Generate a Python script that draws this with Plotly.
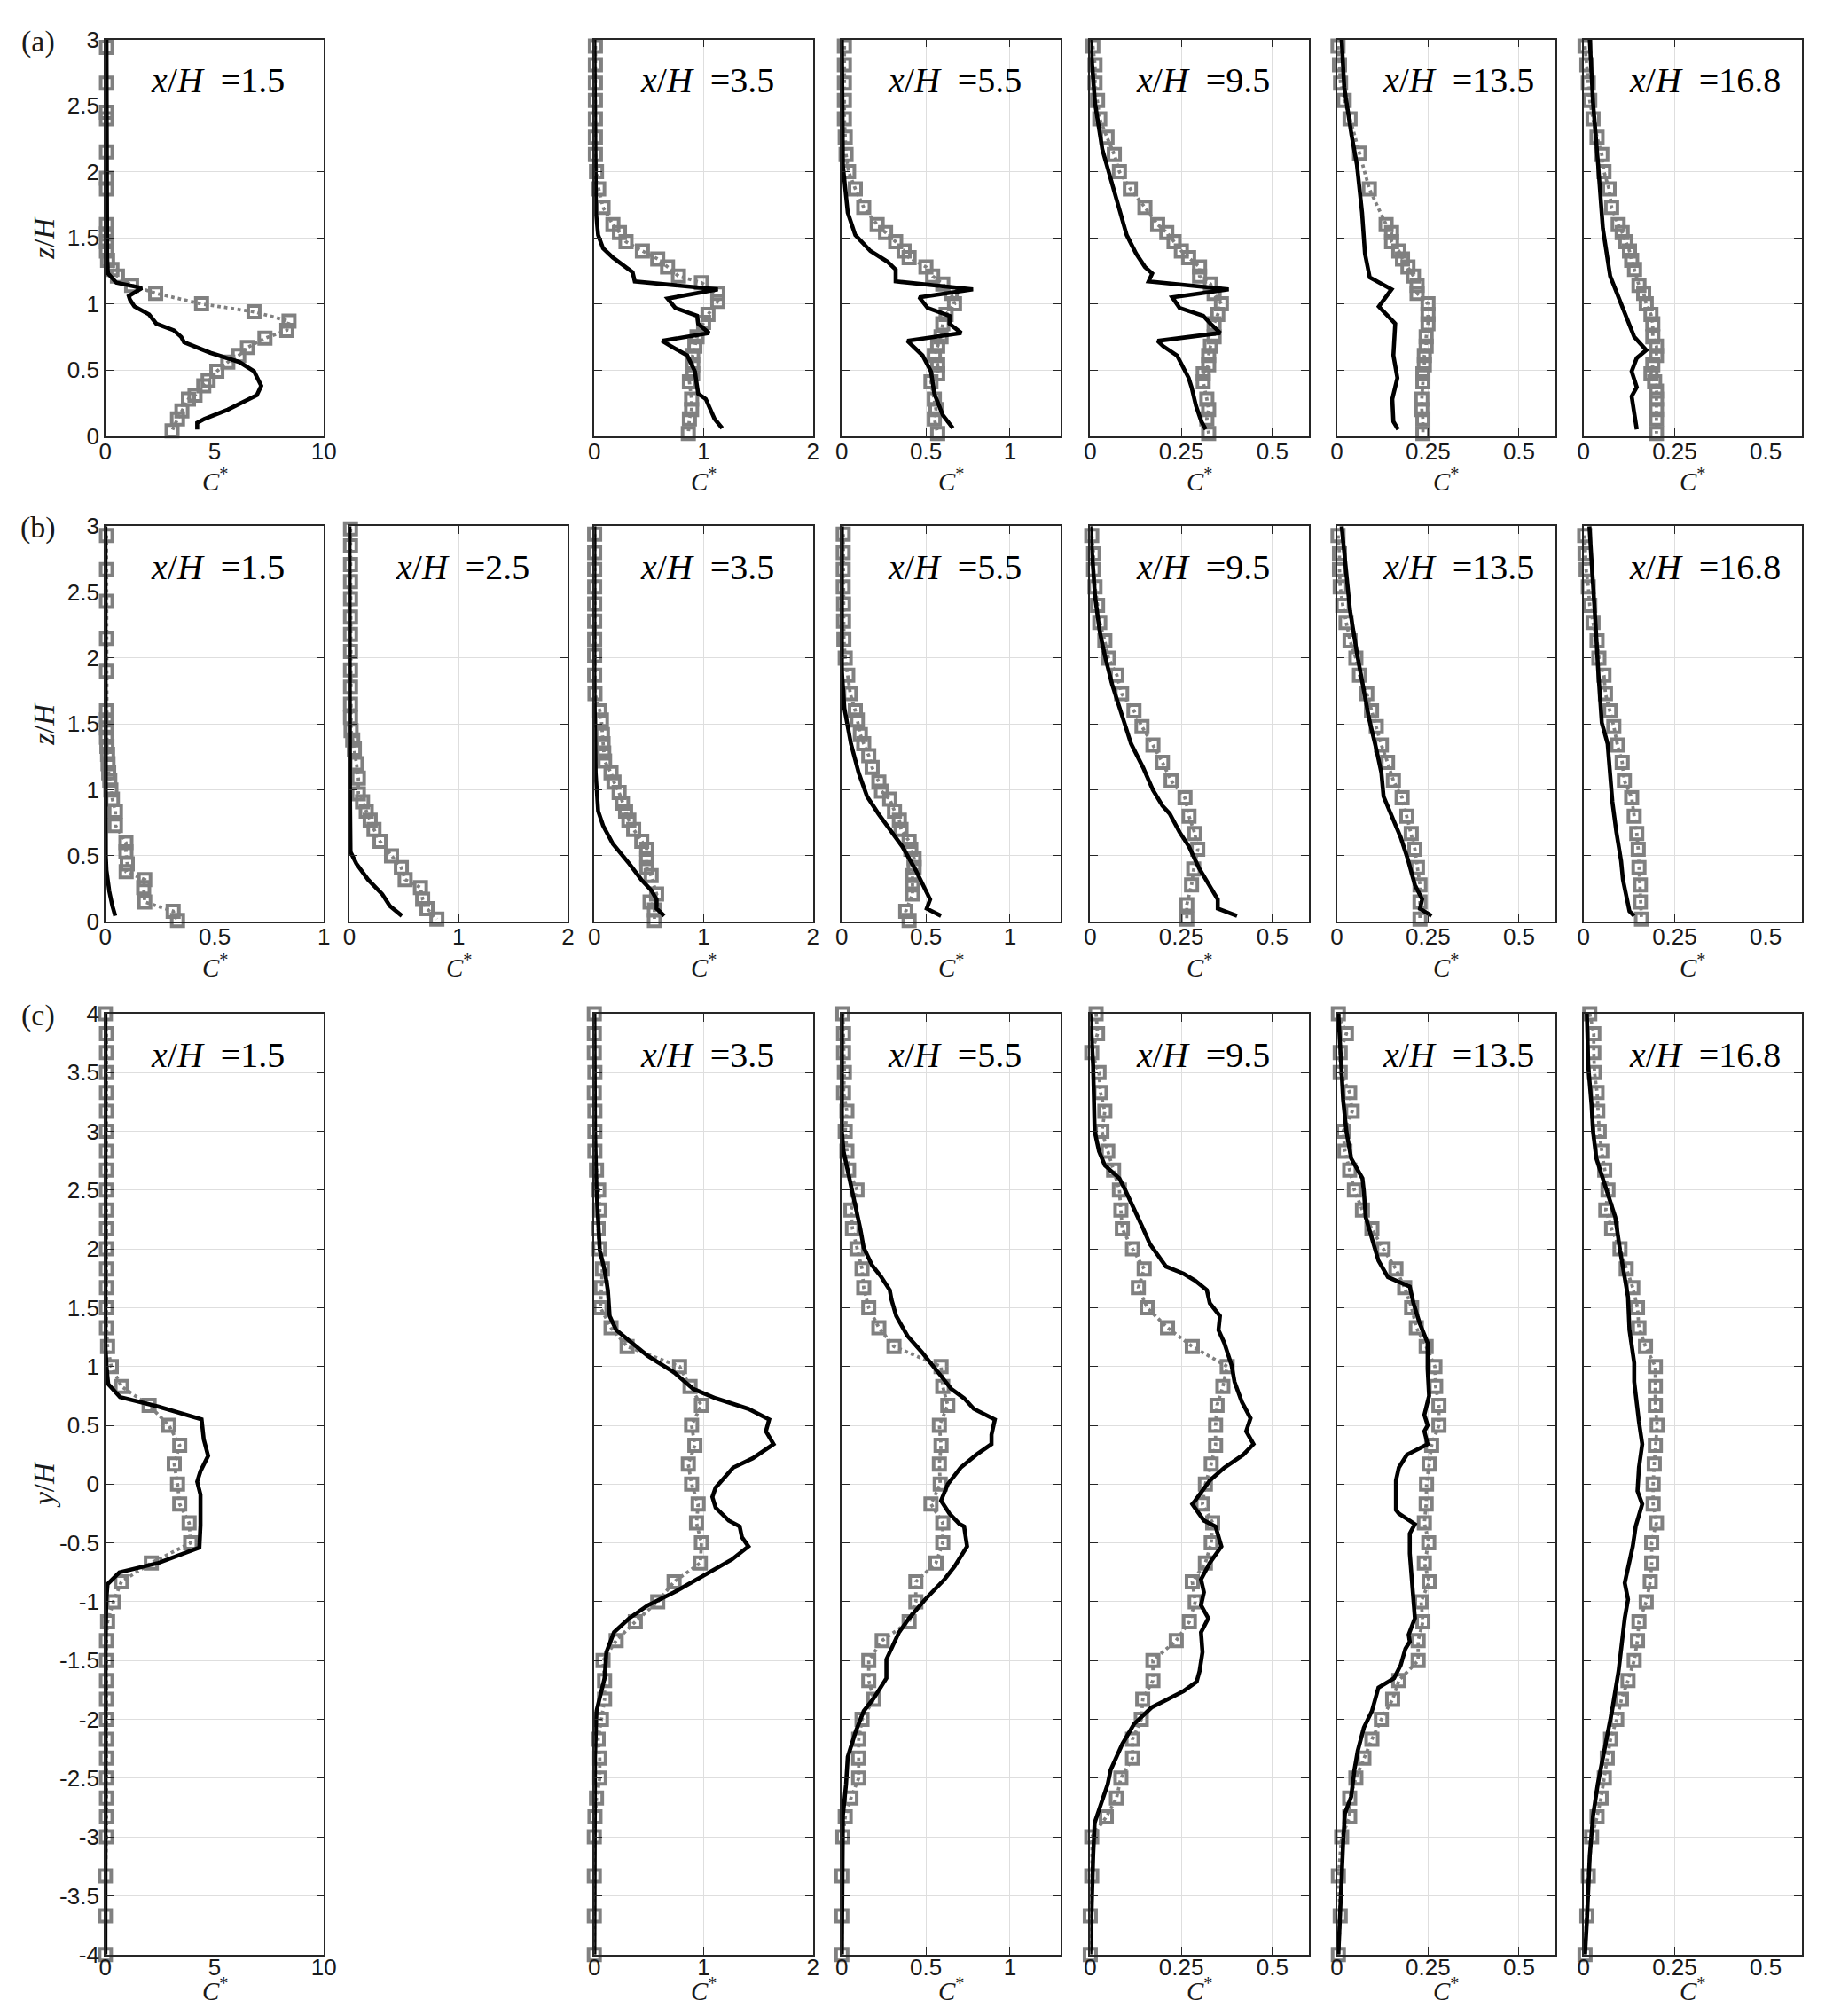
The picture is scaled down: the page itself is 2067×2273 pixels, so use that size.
import plotly.graph_objects as go

# ---------------- DATA ----------------
ROW_A_XH = ["1.5", None, "3.5", "5.5", "9.5", "13.5", "16.8"]
ROW_B_XH = ["1.5", "2.5", "3.5", "5.5", "9.5", "13.5", "16.8"]
ROW_C_XH = ["1.5", None, "3.5", "5.5", "9.5", "13.5", "16.8"]

X_RANGE_BY_COL = {
    "a": [[0, 10], None, [0, 2], [0, 1.3], [0, 0.6], [0, 0.6], [0, 0.6]],
    "b": [[0, 1], [0, 2], [0, 2], [0, 1.3], [0, 0.6], [0, 0.6], [0, 0.6]],
    "c": [[0, 10], None, [0, 2], [0, 1.3], [0, 0.6], [0, 0.6], [0, 0.6]],
}
X_TICKS_BY_COL = {
    "a": [[0, 5, 10], None, [0, 1, 2], [0, 0.5, 1], [0, 0.25, 0.5], [0, 0.25, 0.5], [0, 0.25, 0.5]],
    "b": [[0, 0.5, 1], [0, 1, 2], [0, 1, 2], [0, 0.5, 1], [0, 0.25, 0.5], [0, 0.25, 0.5], [0, 0.25, 0.5]],
    "c": [[0, 5, 10], None, [0, 1, 2], [0, 0.5, 1], [0, 0.25, 0.5], [0, 0.25, 0.5], [0, 0.25, 0.5]],
}
Z_TICKS = [0, 0.5, 1, 1.5, 2, 2.5, 3]
Z_TICK_TEXT = ["0", "0.5", "1", "1.5", "2", "2.5", "3"]
Y_TICKS = [-4, -3.5, -3, -2.5, -2, -1.5, -1, -0.5, 0, 0.5, 1, 1.5, 2, 2.5, 3, 3.5, 4]
Y_TICK_TEXT = ["-4", "-3.5", "-3", "-2.5", "-2", "-1.5", "-1", "-0.5", "0", "0.5", "1", "1.5",
               "2", "2.5", "3", "3.5", "4"]

# ---- row (a): vertical profiles ----
A1_EXP_Z = [2.94, 2.67, 2.45, 2.4, 2.15, 1.95, 1.87, 1.6, 1.53, 1.47, 1.4, 1.33, 1.26, 1.21, 1.14, 1.08,
            1.0, 0.94, 0.87, 0.8, 0.74, 0.67, 0.61, 0.56, 0.49, 0.42, 0.38, 0.31, 0.28, 0.19, 0.13, 0.04]
A1_EXP_C = [0.05, 0.05, 0.05, 0.05, 0.05, 0.05, 0.05, 0.05, 0.05, 0.05, 0.05, 0.1, 0.3, 0.55, 1.2, 2.3,
            4.4, 6.8, 8.4, 8.3, 7.3, 6.5, 6.1, 5.6, 5.1, 4.7, 4.5, 4.1, 3.8, 3.5, 3.3, 3.05]
A1_SIM_Z = [3.0, 2.0, 1.35, 1.23, 1.16, 1.12, 1.06, 1.03, 0.98, 0.92, 0.85, 0.8, 0.75, 0.71, 0.63, 0.56,
            0.49, 0.38, 0.31, 0.2, 0.13, 0.1, 0.05]
A1_SIM_C = [0.05, 0.05, 0.08, 0.12, 0.5, 1.67, 1.07, 1.13, 1.33, 2.0, 2.33, 3.13, 3.47, 3.6, 4.8, 6.13,
            6.8, 7.13, 6.93, 5.6, 4.53, 4.2, 4.2]

A3_EXP_Z = [2.95, 2.81, 2.67, 2.54, 2.4, 2.26, 2.13, 2.0, 1.87, 1.73, 1.6, 1.54, 1.47, 1.4, 1.34, 1.28,
            1.21, 1.16, 1.08, 1.02, 0.92, 0.86, 0.75, 0.68, 0.61, 0.54, 0.47, 0.41, 0.28, 0.2, 0.13, 0.02]
A3_EXP_C = [0.01, 0.01, 0.01, 0.01, 0.01, 0.01, 0.01, 0.02, 0.04, 0.08, 0.17, 0.23, 0.29, 0.44, 0.58, 0.67,
            0.77, 0.98, 1.13, 1.13, 1.04, 1.0, 0.94, 0.92, 0.9, 0.9, 0.9, 0.87, 0.89, 0.89, 0.87, 0.86]
A3_SIM_Z = [3.0, 2.05, 1.69, 1.52, 1.42, 1.35, 1.28, 1.24, 1.17, 1.11, 1.04, 0.97, 0.91, 0.85, 0.78, 0.72,
            0.68, 0.61, 0.49, 0.32, 0.28, 0.13, 0.06]
A3_SIM_C = [0.0, 0.01, 0.015, 0.035, 0.08, 0.17, 0.29, 0.35, 0.37, 1.13, 0.67, 0.74, 0.94, 0.95, 1.05, 0.62,
            0.7, 0.85, 0.92, 0.95, 1.02, 1.1, 1.17]

A4_EXP_Z = [2.95, 2.81, 2.67, 2.54, 2.4, 2.26, 2.13, 2.0, 1.87, 1.73, 1.6, 1.54, 1.47, 1.4, 1.35, 1.28,
            1.21, 1.15, 1.08, 1.0, 0.92, 0.85, 0.75, 0.68, 0.61, 0.54, 0.47, 0.41, 0.28, 0.2, 0.13, 0.02]
A4_EXP_C = [0.015, 0.015, 0.015, 0.015, 0.015, 0.02, 0.025, 0.04, 0.08, 0.13, 0.21, 0.26, 0.32, 0.37, 0.4, 0.5,
            0.54, 0.6, 0.65, 0.67, 0.62, 0.6, 0.59, 0.57, 0.55, 0.57, 0.57, 0.53, 0.55, 0.56, 0.55, 0.57]
A4_SIM_Z = [3.0, 2.05, 1.69, 1.52, 1.4, 1.32, 1.26, 1.17, 1.11, 1.05, 0.97, 0.91, 0.85, 0.78, 0.72, 0.68,
            0.61, 0.49, 0.32, 0.16, 0.06]
A4_SIM_C = [0.0, 0.006, 0.035, 0.08, 0.17, 0.27, 0.32, 0.32, 0.78, 0.46, 0.51, 0.64, 0.64, 0.71, 0.39, 0.42,
            0.48, 0.53, 0.55, 0.6, 0.66]

A5_EXP_Z = A4_EXP_Z
A5_EXP_C = [0.007, 0.013, 0.013, 0.02, 0.026, 0.046, 0.066, 0.08, 0.11, 0.15, 0.185, 0.21, 0.23, 0.25, 0.27, 0.3,
            0.3, 0.33, 0.34, 0.36, 0.35, 0.34, 0.34, 0.33, 0.325, 0.325, 0.31, 0.31, 0.32, 0.325, 0.32, 0.325]
A5_SIM_Z = [3.0, 2.52, 2.17, 1.9, 1.71, 1.52, 1.38, 1.28, 1.23, 1.17, 1.11, 1.05, 0.97, 0.91, 0.85, 0.78,
            0.72, 0.68, 0.61, 0.44, 0.37, 0.23, 0.11, 0.05]
A5_SIM_C = [0.0, 0.013, 0.033, 0.06, 0.08, 0.1, 0.126, 0.15, 0.17, 0.16, 0.38, 0.225, 0.245, 0.31, 0.33, 0.357,
            0.185, 0.2, 0.238, 0.27, 0.278, 0.29, 0.305, 0.317]

A6_EXP_Z = [2.95, 2.81, 2.67, 2.54, 2.4, 2.14, 1.87, 1.6, 1.54, 1.47, 1.4, 1.34, 1.28, 1.21, 1.14, 1.08,
            1.0, 0.92, 0.85, 0.75, 0.68, 0.61, 0.54, 0.47, 0.41, 0.28, 0.2, 0.13, 0.02]
A6_EXP_C = [0.003, 0.007, 0.01, 0.02, 0.036, 0.062, 0.089, 0.135, 0.15, 0.15, 0.17, 0.18, 0.195, 0.21, 0.22, 0.22,
            0.25, 0.25, 0.25, 0.245, 0.245, 0.24, 0.24, 0.236, 0.236, 0.233, 0.233, 0.236, 0.236]
A6_SIM_Z = [3.0, 2.64, 2.28, 2.05, 1.69, 1.38, 1.2, 1.11, 0.98, 0.85, 0.61, 0.44, 0.28, 0.11, 0.05]
A6_SIM_C = [0.013, 0.02, 0.04, 0.055, 0.069, 0.077, 0.09, 0.15, 0.115, 0.16, 0.155, 0.166, 0.152, 0.155, 0.168]

A7_EXP_Z = [2.95, 2.81, 2.67, 2.54, 2.4, 2.26, 2.13, 2.0, 1.87, 1.73, 1.6, 1.54, 1.47, 1.4, 1.33, 1.26,
            1.14, 1.08, 1.0, 0.92, 0.85, 0.75, 0.68, 0.61, 0.54, 0.47, 0.41, 0.34, 0.28, 0.2, 0.13, 0.02]
A7_EXP_C = [0.004, 0.009, 0.013, 0.017, 0.026, 0.037, 0.05, 0.056, 0.07, 0.077, 0.095, 0.106, 0.116, 0.126, 0.132, 0.14,
            0.152, 0.165, 0.172, 0.185, 0.19, 0.19, 0.2, 0.2, 0.19, 0.185, 0.195, 0.2, 0.2, 0.2, 0.2, 0.2]
A7_SIM_Z = [3.0, 2.52, 2.05, 1.57, 1.21, 0.97, 0.75, 0.65, 0.59, 0.49, 0.37, 0.3, 0.18, 0.05]
A7_SIM_C = [0.017, 0.026, 0.04, 0.053, 0.073, 0.106, 0.139, 0.172, 0.146, 0.132, 0.146, 0.132, 0.139, 0.146]

# ---- row (b) ----
B1_EXP_Z = [2.93, 2.67, 2.43, 2.15, 1.9, 1.6, 1.53, 1.47, 1.4, 1.33, 1.27, 1.2, 1.13, 1.07, 1.0, 0.93,
            0.84, 0.73, 0.6, 0.53, 0.44, 0.38, 0.32, 0.26, 0.15, 0.08, 0.01]
B1_EXP_C = [0.005, 0.005, 0.005, 0.005, 0.005, 0.005, 0.005, 0.005, 0.005, 0.007, 0.01, 0.012, 0.015, 0.02, 0.025, 0.032,
            0.046, 0.046, 0.094, 0.094, 0.1, 0.095, 0.18, 0.175, 0.18, 0.31, 0.33]
B1_SIM_Z = [3.0, 1.0, 0.5, 0.39, 0.23, 0.12, 0.045]
B1_SIM_C = [0.0, 0.0, 0.002, 0.005, 0.018, 0.032, 0.045]

B2_EXP_Z = [2.98, 2.85, 2.71, 2.58, 2.45, 2.31, 2.18, 2.05, 1.91, 1.78, 1.65, 1.55, 1.45, 1.38, 1.31, 1.2,
            1.09, 0.97, 0.91, 0.84, 0.77, 0.7, 0.61, 0.5, 0.41, 0.32, 0.26, 0.17, 0.1, 0.02]
B2_EXP_C = [0.01, 0.01, 0.01, 0.01, 0.01, 0.01, 0.01, 0.01, 0.01, 0.01, 0.01, 0.01, 0.015, 0.03, 0.045, 0.064,
            0.082, 0.082, 0.12, 0.154, 0.19, 0.225, 0.28, 0.385, 0.475, 0.51, 0.65, 0.67, 0.71, 0.8]
B2_SIM_Z = [3.0, 1.65, 0.97, 0.53, 0.44, 0.32, 0.21, 0.12, 0.045]
B2_SIM_C = [0.0, 0.0, 0.005, 0.01, 0.064, 0.17, 0.3, 0.37, 0.48]

B3_EXP_Z = [2.94, 2.8, 2.67, 2.54, 2.41, 2.28, 2.14, 2.02, 1.87, 1.73, 1.6, 1.53, 1.42, 1.35, 1.28, 1.22,
            1.13, 1.06, 0.98, 0.9, 0.84, 0.77, 0.7, 0.61, 0.55, 0.48, 0.41, 0.35, 0.21, 0.15, 0.09, 0.01]
B3_EXP_C = [0.003, 0.003, 0.003, 0.003, 0.003, 0.003, 0.003, 0.003, 0.003, 0.006, 0.05, 0.065, 0.074, 0.08, 0.086, 0.094,
            0.153, 0.18, 0.227, 0.257, 0.286, 0.316, 0.36, 0.434, 0.48, 0.48, 0.48, 0.52, 0.57, 0.51, 0.55, 0.55]
B3_SIM_Z = [3.0, 1.8, 1.13, 1.0, 0.84, 0.73, 0.59, 0.44, 0.32, 0.24, 0.17, 0.1, 0.045]
B3_SIM_C = [0.0, 0.0, 0.012, 0.02, 0.035, 0.08, 0.17, 0.32, 0.43, 0.52, 0.57, 0.57, 0.64]

B4_EXP_Z = [2.94, 2.8, 2.67, 2.54, 2.41, 2.28, 2.14, 2.0, 1.87, 1.73, 1.6, 1.53, 1.42, 1.35, 1.26, 1.17,
            1.06, 0.99, 0.93, 0.84, 0.77, 0.7, 0.61, 0.55, 0.48, 0.41, 0.35, 0.28, 0.21, 0.08, 0.01]
B4_EXP_C = [0.008, 0.008, 0.008, 0.008, 0.01, 0.01, 0.012, 0.02, 0.035, 0.05, 0.08, 0.092, 0.11, 0.13, 0.16, 0.18,
            0.22, 0.236, 0.285, 0.313, 0.342, 0.352, 0.4, 0.41, 0.43, 0.43, 0.42, 0.42, 0.42, 0.38, 0.4]
B4_SIM_Z = [3.0, 1.9, 1.62, 1.35, 1.13, 0.95, 0.82, 0.7, 0.57, 0.39, 0.23, 0.17, 0.1, 0.045]
B4_SIM_C = [0.0, 0.0, 0.015, 0.054, 0.1, 0.15, 0.217, 0.285, 0.36, 0.44, 0.5, 0.525, 0.505, 0.59]

B5_EXP_Z = [2.93, 2.79, 2.67, 2.54, 2.4, 2.27, 2.13, 2.0, 1.87, 1.73, 1.6, 1.48, 1.34, 1.21, 1.07, 0.94,
            0.8, 0.67, 0.55, 0.4, 0.28, 0.13, 0.02]
B5_EXP_C = [0.004, 0.009, 0.009, 0.013, 0.02, 0.026, 0.04, 0.05, 0.073, 0.086, 0.12, 0.142, 0.172, 0.198, 0.222, 0.26,
            0.271, 0.287, 0.295, 0.284, 0.278, 0.265, 0.265]
B5_SIM_Z = [3.0, 2.47, 2.2, 2.02, 1.8, 1.58, 1.35, 1.17, 1.0, 0.88, 0.82, 0.68, 0.57, 0.41, 0.32, 0.17, 0.1, 0.045]
B5_SIM_C = [0.0, 0.013, 0.026, 0.04, 0.06, 0.086, 0.112, 0.145, 0.172, 0.198, 0.218, 0.245, 0.271, 0.298, 0.317,
            0.35, 0.35, 0.403]

B6_EXP_Z = [2.93, 2.79, 2.67, 2.54, 2.4, 2.27, 2.13, 2.0, 1.87, 1.73, 1.6, 1.48, 1.34, 1.21, 1.07, 0.94,
            0.8, 0.67, 0.55, 0.41, 0.28, 0.15, 0.02]
B6_EXP_C = [0.003, 0.007, 0.007, 0.009, 0.016, 0.025, 0.036, 0.052, 0.062, 0.082, 0.095, 0.108, 0.122, 0.139, 0.155,
            0.179, 0.192, 0.204, 0.214, 0.221, 0.228, 0.228, 0.228]
B6_SIM_Z = [3.0, 2.69, 2.36, 2.02, 1.75, 1.53, 1.31, 1.13, 0.95, 0.77, 0.64, 0.48, 0.28, 0.17, 0.1, 0.045]
B6_SIM_C = [0.013, 0.023, 0.036, 0.056, 0.075, 0.089, 0.108, 0.122, 0.128, 0.155, 0.175, 0.194, 0.214, 0.234, 0.228, 0.26]

B7_EXP_Z = B6_EXP_Z
B7_EXP_C = [0.003, 0.004, 0.007, 0.013, 0.017, 0.026, 0.037, 0.042, 0.056, 0.06, 0.073, 0.083, 0.093, 0.106, 0.112,
            0.132, 0.139, 0.146, 0.15, 0.152, 0.156, 0.156, 0.159]
B7_SIM_Z = [3.0, 2.58, 2.25, 1.91, 1.51, 1.35, 1.13, 0.91, 0.68, 0.46, 0.32, 0.15, 0.08, 0.045]
B7_SIM_C = [0.016, 0.024, 0.033, 0.04, 0.05, 0.066, 0.073, 0.079, 0.09, 0.103, 0.108, 0.119, 0.126, 0.139]

# ---- row (c): lateral profiles ----
C_EXP_Y = [4.0, 3.83, 3.67, 3.5, 3.33, 3.17, 3.0, 2.83, 2.67, 2.5, 2.33, 2.17, 2.0, 1.83, 1.67, 1.5,
           1.33, 1.17, 1.0, 0.83, 0.67, 0.5, 0.33, 0.17, 0.0, -0.17, -0.33, -0.5, -0.67, -0.83, -1.0, -1.17,
           -1.33, -1.5, -1.67, -1.83, -2.0, -2.17, -2.33, -2.5, -2.67, -2.83, -3.0, -3.33, -3.67, -4.0]

C1_EXP_C = [0.0, 0.05, 0.05, 0.05, 0.05, 0.05, 0.05, 0.05, 0.05, 0.05, 0.05, 0.05, 0.05, 0.05, 0.05, 0.05,
            0.05, 0.1, 0.27, 0.74, 2.0, 2.9, 3.4, 3.15, 3.3, 3.4, 3.83, 3.9, 2.1, 0.73, 0.37, 0.1,
            0.05, 0.05, 0.05, 0.05, 0.05, 0.05, 0.05, 0.05, 0.05, 0.05, 0.05, 0.0, 0.0, 0.0]
C1_SIM_Y = [4.0, 1.17, 0.96, 0.85, 0.74, 0.66, 0.55, 0.38, 0.24, 0.11, 0.02, -0.09, -0.35, -0.54, -0.67, -0.75,
            -0.85, -0.99, -1.38, -4.0]
C1_SIM_C = [0.0, 0.0, 0.07, 0.13, 0.67, 2.4, 4.4, 4.5, 4.7, 4.35, 4.2, 4.35, 4.35, 4.3, 2.43, 0.64,
            0.1, 0.04, 0.01, 0.0]

C3_EXP_C = [0.0, 0.0, 0.0, 0.005, 0.0, 0.005, 0.005, 0.005, 0.02, 0.04, 0.05, 0.035, 0.045, 0.074, 0.065, 0.056,
            0.153, 0.3, 0.78, 0.876, 0.98, 0.89, 0.92, 0.86, 0.89, 0.95, 0.935, 0.98, 0.97, 0.73, 0.58, 0.375,
            0.2, 0.08, 0.094, 0.094, 0.065, 0.035, 0.05, 0.05, 0.02, 0.006, 0.0, 0.0, 0.0, 0.0]
C3_SIM_Y = [4.0, 3.0, 2.5, 2.21, 1.99, 1.82, 1.65, 1.43, 1.31, 1.2, 1.09, 0.95, 0.81, 0.73, 0.64, 0.55,
            0.45, 0.34, 0.22, 0.14, -0.03, -0.11, -0.2, -0.31, -0.36, -0.45, -0.53, -0.64, -0.78, -0.92,
            -1.03, -1.14, -1.26, -1.43, -1.65, -1.93, -2.32, -4.0]
C3_SIM_C = [0.0, 0.006, 0.02, 0.035, 0.05, 0.094, 0.124, 0.14, 0.2, 0.345, 0.49, 0.73, 0.905, 1.11, 1.41, 1.6,
            1.57, 1.64, 1.45, 1.27, 1.11, 1.08, 1.11, 1.23, 1.33, 1.35, 1.41, 1.26, 0.99, 0.73,
            0.49, 0.32, 0.18, 0.11, 0.094, 0.02, 0.006, 0.0]

C4_EXP_C = [0.006, 0.01, 0.01, 0.015, 0.01, 0.03, 0.02, 0.03, 0.04, 0.09, 0.054, 0.063, 0.09, 0.12, 0.13, 0.16,
            0.22, 0.31, 0.59, 0.6, 0.63, 0.58, 0.59, 0.58, 0.585, 0.53, 0.6, 0.6, 0.56, 0.44, 0.44, 0.4,
            0.24, 0.16, 0.16, 0.19, 0.12, 0.1, 0.1, 0.1, 0.054, 0.02, 0.006, 0.0, 0.0, 0.0]
C4_SIM_Y = [4.0, 3.0, 2.83, 2.67, 2.5, 2.33, 2.17, 2.01, 1.86, 1.77, 1.65, 1.57, 1.43, 1.26, 1.12, 0.92,
            0.81, 0.73, 0.64, 0.55, 0.42, 0.34, 0.25, 0.14, 0.0, -0.14, -0.25, -0.34, -0.36, -0.53,
            -0.7, -0.81, -0.98, -1.14, -1.26, -1.49, -1.65, -1.82, -1.93, -2.1, -2.32, -2.55, -2.82, -4.0]
C4_SIM_C = [0.0, 0.0, 0.01, 0.035, 0.063, 0.09, 0.11, 0.13, 0.18, 0.23, 0.285, 0.295, 0.323, 0.39, 0.477, 0.59,
            0.65, 0.727, 0.785, 0.91, 0.89, 0.89, 0.8, 0.706, 0.63, 0.59, 0.64, 0.7, 0.727, 0.745,
            0.67, 0.61, 0.496, 0.4, 0.34, 0.265, 0.265, 0.19, 0.13, 0.083, 0.035, 0.025, 0.006, 0.0]

C5_EXP_C = [0.016, 0.02, 0.004, 0.024, 0.028, 0.04, 0.032, 0.048, 0.064, 0.08, 0.084, 0.088, 0.116, 0.148, 0.132, 0.156,
            0.212, 0.28, 0.376, 0.364, 0.348, 0.344, 0.344, 0.332, 0.316, 0.308, 0.336, 0.332, 0.316, 0.28, 0.288, 0.272,
            0.236, 0.172, 0.172, 0.144, 0.14, 0.116, 0.116, 0.084, 0.072, 0.044, 0.004, 0.004, 0.0, 0.0]
C5_SIM_Y = [4.0, 3.55, 3.0, 2.83, 2.71, 2.6, 2.5, 2.33, 2.18, 2.04, 1.85, 1.79, 1.73, 1.65, 1.54, 1.43,
            1.31, 1.2, 1.01, 0.87, 0.7, 0.56, 0.45, 0.34, 0.25, 0.14, 0.03, -0.14, -0.17, -0.31,
            -0.36, -0.53, -0.67, -0.81, -0.92, -1.03, -1.14, -1.26, -1.43, -1.59, -1.68, -1.76, -1.82,
            -1.9, -2.04, -2.21, -2.43, -2.55, -2.77, -2.88, -3.15, -3.71, -4.0]
C5_SIM_C = [0.0, 0.008, 0.012, 0.024, 0.04, 0.08, 0.096, 0.12, 0.144, 0.164, 0.208, 0.256, 0.288, 0.32, 0.328, 0.356,
            0.352, 0.368, 0.388, 0.396, 0.416, 0.44, 0.428, 0.448, 0.42, 0.368, 0.328, 0.288, 0.28, 0.312,
            0.344, 0.36, 0.328, 0.304, 0.312, 0.304, 0.324, 0.304, 0.308, 0.3, 0.292, 0.256, 0.216,
            0.168, 0.12, 0.088, 0.056, 0.048, 0.024, 0.012, 0.008, 0.004, 0.0]

C6_EXP_C = [0.004, 0.026, 0.009, 0.009, 0.035, 0.042, 0.017, 0.022, 0.035, 0.048, 0.07, 0.096, 0.127, 0.162, 0.186, 0.205,
            0.218, 0.245, 0.269, 0.271, 0.28, 0.28, 0.26, 0.253, 0.246, 0.245, 0.24, 0.252, 0.24, 0.253, 0.231, 0.236,
            0.223, 0.223, 0.17, 0.153, 0.122, 0.096, 0.074, 0.052, 0.035, 0.035, 0.013, 0.004, 0.009, 0.004]
C6_SIM_Y = [4.0, 3.55, 3.27, 3.0, 2.77, 2.6, 2.49, 2.27, 2.04, 1.9, 1.76, 1.68, 1.54, 1.37, 1.2, 0.98,
            0.75, 0.59, 0.5, 0.45, 0.34, 0.25, 0.14, 0.03, -0.22, -0.25, -0.34, -0.42, -0.59, -0.81,
            -1.03, -1.14, -1.28, -1.34, -1.4, -1.54, -1.65, -1.73, -1.93, -2.07, -2.27, -2.43, -2.66,
            -2.8, -3.05, -3.72, -4.0]
C6_SIM_C = [0.004, 0.013, 0.017, 0.026, 0.039, 0.07, 0.074, 0.079, 0.1, 0.114, 0.14, 0.2, 0.21, 0.227, 0.249, 0.249,
            0.253, 0.24, 0.249, 0.24, 0.249, 0.192, 0.17, 0.162, 0.162, 0.17, 0.214, 0.2, 0.2, 0.205,
            0.21, 0.214, 0.197, 0.2, 0.188, 0.175, 0.157, 0.114, 0.096, 0.074, 0.057, 0.048, 0.039,
            0.022, 0.017, 0.009, 0.004]

C7_EXP_C = [0.017, 0.028, 0.028, 0.03, 0.037, 0.039, 0.043, 0.05, 0.058, 0.067, 0.061, 0.077, 0.1, 0.117, 0.135, 0.148,
            0.152, 0.17, 0.197, 0.197, 0.197, 0.202, 0.197, 0.194, 0.191, 0.191, 0.2, 0.187, 0.187, 0.183, 0.172, 0.152,
            0.148, 0.139, 0.122, 0.104, 0.091, 0.074, 0.065, 0.057, 0.048, 0.037, 0.022, 0.013, 0.009, 0.004]
C7_SIM_Y = [4.0, 3.55, 3.22, 3.0, 2.77, 2.6, 2.43, 2.27, 1.99, 1.76, 1.59, 1.31, 1.03, 0.87, 0.75, 0.53,
            0.34, 0.14, -0.06, -0.17, -0.36, -0.53, -0.84, -0.98, -1.14, -1.48, -1.59, -1.93, -2.21, -2.55,
            -2.82, -3.16, -3.72, -4.0]
C7_SIM_C = [0.009, 0.013, 0.022, 0.026, 0.035, 0.052, 0.07, 0.087, 0.1, 0.113, 0.122, 0.126, 0.139, 0.139, 0.143, 0.152,
            0.161, 0.152, 0.148, 0.161, 0.143, 0.135, 0.113, 0.122, 0.113, 0.1, 0.096, 0.078, 0.061, 0.039,
            0.026, 0.017, 0.009, 0.004]

PANEL_DATA = {
    ("a", 0): (A1_EXP_Z, A1_EXP_C, A1_SIM_Z, A1_SIM_C),
    ("a", 2): (A3_EXP_Z, A3_EXP_C, A3_SIM_Z, A3_SIM_C),
    ("a", 3): (A4_EXP_Z, A4_EXP_C, A4_SIM_Z, A4_SIM_C),
    ("a", 4): (A5_EXP_Z, A5_EXP_C, A5_SIM_Z, A5_SIM_C),
    ("a", 5): (A6_EXP_Z, A6_EXP_C, A6_SIM_Z, A6_SIM_C),
    ("a", 6): (A7_EXP_Z, A7_EXP_C, A7_SIM_Z, A7_SIM_C),
    ("b", 0): (B1_EXP_Z, B1_EXP_C, B1_SIM_Z, B1_SIM_C),
    ("b", 1): (B2_EXP_Z, B2_EXP_C, B2_SIM_Z, B2_SIM_C),
    ("b", 2): (B3_EXP_Z, B3_EXP_C, B3_SIM_Z, B3_SIM_C),
    ("b", 3): (B4_EXP_Z, B4_EXP_C, B4_SIM_Z, B4_SIM_C),
    ("b", 4): (B5_EXP_Z, B5_EXP_C, B5_SIM_Z, B5_SIM_C),
    ("b", 5): (B6_EXP_Z, B6_EXP_C, B6_SIM_Z, B6_SIM_C),
    ("b", 6): (B7_EXP_Z, B7_EXP_C, B7_SIM_Z, B7_SIM_C),
    ("c", 0): (C_EXP_Y, C1_EXP_C, C1_SIM_Y, C1_SIM_C),
    ("c", 2): (C_EXP_Y, C3_EXP_C, C3_SIM_Y, C3_SIM_C),
    ("c", 3): (C_EXP_Y, C4_EXP_C, C4_SIM_Y, C4_SIM_C),
    ("c", 4): (C_EXP_Y, C5_EXP_C, C5_SIM_Y, C5_SIM_C),
    ("c", 5): (C_EXP_Y, C6_EXP_C, C6_SIM_Y, C6_SIM_C),
    ("c", 6): (C_EXP_Y, C7_EXP_C, C7_SIM_Y, C7_SIM_C),
}

# ---------------- LAYOUT (pixels) ----------------
W, H = 2067, 2273
COL_LEFT = [113, 391, 670, 952, 1235, 1516, 1797]
COL_W = 249
ROW_TOP = {"a": 30, "b": 586, "c": 1143}
ROW_BOT = {"a": 483, "b": 1038, "c": 2218}
CSTAR_OFF = {"a": 50, "b": 50, "c": 40}
TICK_STANDOFF = {"a": -7, "b": -7, "c": -10}
XH_LABELS = {"a": ROW_A_XH, "b": ROW_B_XH, "c": ROW_C_XH}

AX_COLOR = "#262626"
GRID = "#dedede"
GRAY = "#808080"
TICK_FONT = dict(family="Liberation Sans, Arial, sans-serif", size=26, color="#1a1a1a")
SERIF = "Liberation Serif, Times New Roman, serif"

fig = go.Figure()
layout = dict(width=W, height=H, margin=dict(l=0, r=0, t=0, b=0, pad=0), autosize=False,
              paper_bgcolor="white", plot_bgcolor="white", showlegend=False)
annotations = []

n = 0
for row in ["a", "b", "c"]:
    for col in range(7):
        if (row, col) not in PANEL_DATA:
            continue
        n += 1
        ez, ec, sz, sc = PANEL_DATA[(row, col)]
        xa = "x" if n == 1 else "x%d" % n
        ya = "y" if n == 1 else "y%d" % n
        fig.add_trace(go.Scatter(x=ec, y=ez, mode="lines+markers", xaxis=xa, yaxis=ya,
                                 line=dict(color=GRAY, width=3.8, dash="dot"),
                                 marker=dict(symbol="square-open", size=13, color=GRAY,
                                             line=dict(color=GRAY, width=4)),
                                 cliponaxis=False, hoverinfo="skip"))
        fig.add_trace(go.Scatter(x=sc, y=sz, mode="lines", xaxis=xa, yaxis=ya,
                                 line=dict(color="black", width=4.6), hoverinfo="skip"))
        left = COL_LEFT[col]
        top, bot = ROW_TOP[row], ROW_BOT[row]
        xt = X_TICKS_BY_COL[row][col]
        common = dict(showline=True, linecolor=AX_COLOR, linewidth=1.5, mirror="ticks",
                      ticks="inside", ticklen=9, tickwidth=1.4, tickcolor=AX_COLOR,
                      showgrid=True, gridcolor=GRID, gridwidth=1, zeroline=False,
                      tickfont=TICK_FONT, fixedrange=True)
        layout["xaxis" if n == 1 else "xaxis%d" % n] = dict(
            domain=[left / W, (left + COL_W) / W], anchor=ya, range=X_RANGE_BY_COL[row][col],
            tickvals=xt, ticktext=["%g" % v for v in xt], ticklabelstandoff=TICK_STANDOFF[row],
            **common)
        if row == "c":
            yv, yt, yr = Y_TICKS, Y_TICK_TEXT, [-4, 4]
        else:
            yv, yt, yr = Z_TICKS, Z_TICK_TEXT, [0, 3]
        layout["yaxis" if n == 1 else "yaxis%d" % n] = dict(
            domain=[1 - bot / H, 1 - top / H], anchor=xa, range=yr,
            tickvals=yv, ticktext=yt, showticklabels=(col == 0), **common)
        annotations.append(dict(
            x=(left + 50) / W, y=1 - (top + 47) / H, xref="paper", yref="paper",
            xanchor="left", yanchor="middle", showarrow=False,
            text="<i>x</i>/<i>H</i>&nbsp;&nbsp;=%s" % XH_LABELS[row][col],
            font=dict(family=SERIF, size=40, color="black")))
        annotations.append(dict(
            x=(left + COL_W / 2) / W, y=1 - (bot + CSTAR_OFF[row]) / H, xref="paper", yref="paper",
            xanchor="center", yanchor="middle", showarrow=False,
            text="<i>C</i><sup>*</sup>",
            font=dict(family=SERIF, size=29, color="#1a1a1a")))

for row, ttl in [("a", "z"), ("b", "z"), ("c", "y")]:
    top, bot = ROW_TOP[row], ROW_BOT[row]
    annotations.append(dict(
        x=44 / W, y=1 - (top + bot) / 2 / H, xref="paper", yref="paper",
        xanchor="center", yanchor="middle", showarrow=False, textangle=-90,
        text="<i>%s</i>/<i>H</i>" % ttl,
        font=dict(family=SERIF, size=33, color="#1a1a1a")))
    annotations.append(dict(
        x=36 / W, y=1 - (top + 2) / H, xref="paper", yref="paper",
        xanchor="center", yanchor="middle", showarrow=False,
        text="(%s)" % row, font=dict(family=SERIF, size=34, color="#1a1a1a")))

layout["annotations"] = annotations
fig.update_layout(**layout)
fig.write_html("out.html", config={"displayModeBar": False},
               post_script="document.body.style.margin='0px';")
